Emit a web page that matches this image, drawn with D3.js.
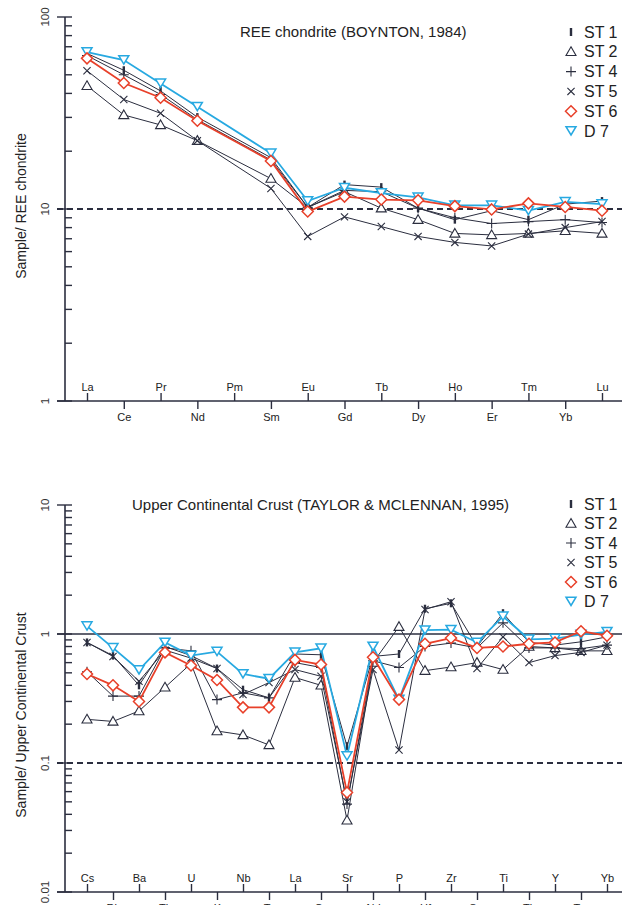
<!DOCTYPE html>
<html>
<head>
<meta charset="utf-8">
<title>REE and UCC spider diagrams</title>
<script src="https://cdn.jsdelivr.net/npm/d3@7"></script>
<style>
  body { margin: 0; background: #fff; }
  svg { display: block; font-family: Arial, "Liberation Sans", sans-serif; }
</style>
</head>
<body>
<script>
// ---- data: REE normalised to chondrite (Boynton, 1984) ----
var reeElements = ["La","Ce","Pr","Nd","Pm","Sm","Eu","Gd","Tb","Dy","Ho","Er","Tm","Yb","Lu"];
var reeST1 = [64.6, 52.8, 41.2, 30.1, null, 18.5, 10.2, 13.4, 13.0, 10.1, 8.8, 9.8, 8.8, 10.6, 11.0];
var reeST2 = [43.8, 30.9, 27.4, 22.7, null, 14.4, 10.2, 12.3, 10.1, 8.8, 7.46, 7.33, 7.46, 7.7, 7.46];
var reeST4 = [63.0, 50.0, 39.5, 29.2, null, 18.0, 10.2, 12.5, 12.3, 10.1, 9.0, 8.4, 8.6, 8.8, 8.5];
var reeST5 = [52.5, 37.2, 31.5, 22.7, null, 12.8, 7.2, 9.1, 8.1, 7.2, 6.7, 6.42, 7.4, 8.0, 8.6];
var reeST6 = [60.9, 45.3, 38.0, 28.8, null, 17.8, 9.7, 11.6, 11.2, 11.1, 10.35, 9.95, 10.7, 10.25, 9.8];
var reeD7  = [65.7, 59.7, 45.1, 34.1, null, 19.5, 11.0, 12.9, 12.1, 11.5, 10.45, 10.45, 9.8, 10.9, 10.6];

// ---- data: normalised to upper continental crust (Taylor & McLennan, 1995) ----
var uccElements = ["Cs","Rb","Ba","Th","U","K","Nb","Ta","La","Ce","Sr","Nd","P","Hf","Zr","Sm","Ti","Tb","Y","Tm","Yb"];
var uccST1 = [0.86, 0.68, 0.40, 0.80, 0.68, 0.54, 0.37, 0.32, 0.70, 0.69, 0.135, 0.67, 0.70, 1.57, 1.73, 0.80, 1.45, 0.86, 0.82, 0.87, 0.95];
var uccST2 = [0.218, 0.21, 0.253, 0.386, 0.59, 0.177, 0.165, 0.138, 0.46, 0.40, 0.036, 0.60, 1.14, 0.52, 0.555, 0.60, 0.53, 0.80, 0.78, 0.74, 0.74];
var uccST4 = [0.51, 0.33, 0.33, 0.78, 0.74, 0.31, 0.35, 0.32, 0.60, 0.55, 0.048, 0.62, 0.55, 0.80, 0.85, 0.78, 1.22, 0.78, 0.78, 0.77, 0.82];
var uccST5 = [0.86, 0.67, 0.43, 0.75, 0.65, 0.54, 0.34, 0.42, 0.53, 0.47, 0.05, 0.53, 0.126, 1.55, 1.78, 0.54, 0.95, 0.60, 0.68, 0.72, 0.82];
var uccST6 = [0.49, 0.40, 0.30, 0.72, 0.57, 0.44, 0.27, 0.27, 0.63, 0.58, 0.059, 0.66, 0.31, 0.84, 0.93, 0.78, 0.80, 0.84, 0.86, 1.05, 0.97];
var uccD7  = [1.15, 0.78, 0.526, 0.86, 0.68, 0.73, 0.49, 0.45, 0.72, 0.775, 0.113, 0.80, 0.31, 1.07, 1.08, 0.86, 1.37, 0.91, 0.92, 0.99, 1.04];

var seriesNames = ["ST 1","ST 2","ST 4","ST 5","ST 6","D 7"];
var seriesSymbols = ["bar","triUp","plus","cross","diamond","triDown"];
var seriesColors = ["#2b2e3f","#2b2e3f","#2b2e3f","#2b2e3f","#e8402a","#27a9e1"];
var seriesWidths = [1, 1, 1, 1, 1.8, 1.8];
// draw order: red series last so its diamonds stay on top
var drawOrder = [0, 1, 2, 3, 5, 4];

var ink = "#2b2e3f";

var svg = d3.select("body").append("svg")
  .attr("width", 625)
  .attr("height", 905);

var symbolPaths = {
  bar: "M0,-4V4",
  triUp: "M0,-5L5,3.7L-5,3.7Z",
  plus: "M-5,0H5M0,-5V5",
  cross: "M-3.6,-3.6L3.6,3.6M-3.6,3.6L3.6,-3.6",
  diamond: "M0,-5.5L5.5,0L0,5.5L-5.5,0Z",
  triDown: "M0,4L5,-4.3L-5,-4.3Z"
};

function marker(g, sym, color) {
  var filled = (sym == "triUp" || sym == "diamond" || sym == "triDown");
  g.append("path")
    .attr("d", symbolPaths[sym])
    .attr("fill", filled ? "#fff" : "none")
    .attr("stroke", color)
    .attr("stroke-width", sym == "bar" ? 2.4 : (sym == "diamond" || sym == "triDown") ? 1.5 : 1.1);
}

function drawChart(cfg) {
  var g = svg.append("g");
  var x = d3.scalePoint().domain(cfg.elements).range([87, cfg.xEnd]);
  var y = d3.scaleLog().domain(cfg.yDomain).range([cfg.yBottom, cfg.yTop]);

  // y axis line
  g.append("line")
    .attr("x1", 65).attr("x2", 65)
    .attr("y1", y(cfg.yDomain[1])).attr("y2", y(cfg.yDomain[0]))
    .attr("stroke", ink).attr("stroke-width", 1.6);

  // y ticks: majors cross the axis, minors point inward
  y.ticks().forEach(function(t) {
    var major = Math.abs(Math.log10(t) - Math.round(Math.log10(t))) < 1e-9;
    g.append("line")
      .attr("x1", major ? 57 : 65).attr("x2", 72)
      .attr("y1", y(t)).attr("y2", y(t))
      .attr("stroke", ink).attr("stroke-width", 1.4);
  });

  cfg.yLabels.forEach(function(t) {
    g.append("text")
      .attr("transform", "translate(49," + y(t) + ") rotate(-90)")
      .attr("text-anchor", "middle")
      .attr("font-size", "11.5px")
      .attr("fill", "#333")
      .text(t);
  });

  g.append("text")
    .attr("transform", "translate(26," + cfg.titleY + ") rotate(-90)")
    .attr("text-anchor", "middle")
    .attr("font-size", "14px")
    .attr("fill", "#222")
    .text(cfg.yTitle);

  // x axis line
  var yb = y(cfg.yDomain[0]);
  g.append("line")
    .attr("x1", 57).attr("x2", 622)
    .attr("y1", yb).attr("y2", yb)
    .attr("stroke", ink).attr("stroke-width", 1.6);

  var upper = cfg.elements.filter(function(d, i) { return i % 2 == 0; });
  var lower = cfg.elements.filter(function(d, i) { return i % 2 == 1; });

  var axTop = g.append("g").attr("transform", "translate(0," + yb + ")")
    .call(d3.axisTop(x).tickValues(upper).tickSize(8).tickPadding(2));
  var axBot = g.append("g").attr("transform", "translate(0," + yb + ")")
    .call(d3.axisBottom(x).tickValues(lower).tickSize(8).tickPadding(4));
  [axTop, axBot].forEach(function(a) {
    a.select(".domain").remove();
    a.selectAll("line").attr("stroke", ink).attr("stroke-width", 1.4);
    a.selectAll("text").attr("font-size", "11px").attr("fill", "#222")
      .attr("font-family", "Arial, 'Liberation Sans', sans-serif");
  });

  // reference lines
  cfg.refLines.forEach(function(r) {
    g.append("line")
      .attr("x1", 57).attr("x2", 622)
      .attr("y1", y(r.v)).attr("y2", y(r.v))
      .attr("stroke", ink)
      .attr("stroke-width", r.dash ? 2 : 1.6)
      .attr("stroke-dasharray", r.dash ? "6,4" : null);
  });

  // series
  var line = d3.line()
    .x(function(d) { return x(d.el); })
    .y(function(d) { return y(d.v); });

  drawOrder.forEach(function(k) {
    var vals = cfg.series[k];
    var pts = vals.map(function(v, i) { return { el: cfg.elements[i], v: v }; })
      .filter(function(d) { return d.v != null; });
    g.append("path")
      .datum(pts)
      .attr("d", line)
      .attr("fill", "none")
      .attr("stroke", seriesColors[k])
      .attr("stroke-width", seriesWidths[k]);
    pts.forEach(function(d) {
      var m = g.append("g").attr("transform", "translate(" + x(d.el) + "," + y(d.v) + ")");
      marker(m, seriesSymbols[k], seriesColors[k]);
    });
  });

  // chart title
  g.append("text")
    .attr("x", cfg.headX).attr("y", cfg.headY)
    .attr("font-size", "15px")
    .attr("fill", "#222")
    .text(cfg.head);

  // legend
  seriesNames.forEach(function(n, k) {
    var ly = cfg.legendY + k * cfg.legendStep;
    var m = g.append("g").attr("transform", "translate(571," + ly + ")");
    marker(m, seriesSymbols[k], seriesColors[k]);
    g.append("text")
      .attr("x", 584).attr("y", ly + 5.5)
      .attr("font-size", "16px")
      .attr("fill", "#222")
      .text(n);
  });
}

drawChart({
  elements: reeElements,
  xEnd: 602,
  yDomain: [1, 100],
  yTop: 17,
  yBottom: 401,
  yLabels: [100, 10, 1],
  yTitle: "Sample/ REE chondrite",
  titleY: 206,
  refLines: [{ v: 10, dash: true }],
  series: [reeST1, reeST2, reeST4, reeST5, reeST6, reeD7],
  head: "REE chondrite (BOYNTON, 1984)",
  headX: 240,
  headY: 37,
  legendY: 32,
  legendStep: 19.8
});

drawChart({
  elements: uccElements,
  xEnd: 607,
  yDomain: [0.01, 10],
  yTop: 505,
  yBottom: 892,
  yLabels: [10, 1, 0.1, 0.01],
  yTitle: "Sample/ Upper Continental Crust",
  titleY: 715,
  refLines: [{ v: 1, dash: false }, { v: 0.1, dash: true }],
  series: [uccST1, uccST2, uccST4, uccST5, uccST6, uccD7],
  head: "Upper Continental Crust (TAYLOR & MCLENNAN, 1995)",
  headX: 132,
  headY: 510,
  legendY: 504,
  legendStep: 19.5
});
</script>
</body>
</html>
